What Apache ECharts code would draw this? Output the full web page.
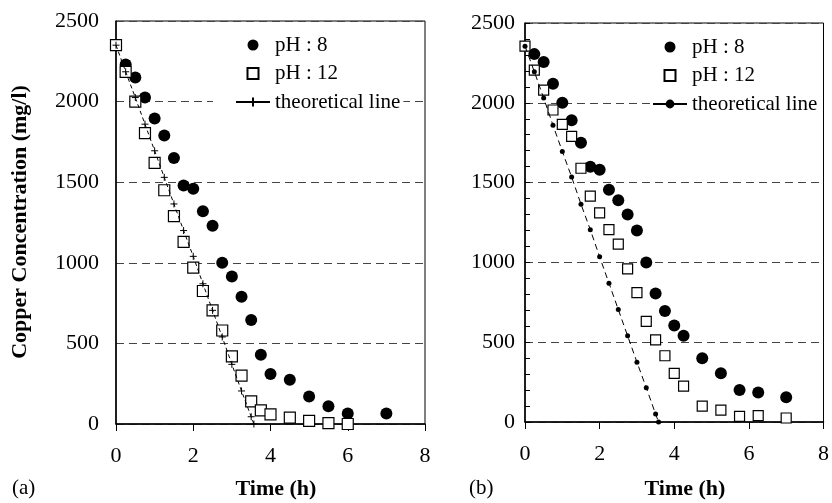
<!DOCTYPE html>
<html>
<head>
<meta charset="utf-8">
<script src="https://cdn.jsdelivr.net/npm/echarts@6/dist/echarts.min.js"></script>
<style>
	html, body { margin: 0; padding: 0; background: #fff; }
	#main { width: 832px; height: 503px; }
</style>
</head>
<body>
<div id="main"></div>
<script>
// (a) 数据
var timeA8 = [0.25, 0.5, 0.75, 1, 1.25, 1.5, 1.75, 2, 2.25, 2.5, 2.75, 3, 3.25, 3.5, 3.75, 4, 4.5, 5, 5.5, 6, 7];
var concA8 = [2230, 2150, 2025, 1895, 1790, 1650, 1480, 1460, 1320, 1230, 1000, 915, 790, 645, 430, 310, 275, 170, 110, 65, 65];
var timeA12 = [0, 0.25, 0.5, 0.75, 1, 1.25, 1.5, 1.75, 2, 2.25, 2.5, 2.75, 3, 3.25, 3.5, 3.75, 4, 4.5, 5, 5.5, 6];
var concA12 = [2350, 2185, 2000, 1805, 1620, 1450, 1290, 1130, 970, 825, 705, 580, 420, 300, 140, 85, 60, 40, 20, 5, 0];
var timeATh = [0, 0.25, 0.5, 0.75, 1, 1.25, 1.5, 1.75, 2, 2.25, 2.5, 2.75, 3, 3.25, 3.5, 3.57];
var concATh = [2350, 2185, 2025, 1860, 1695, 1530, 1365, 1200, 1040, 870, 705, 540, 370, 205, 45, 0];

// (b) 数据
var timeB8 = [0.25, 0.5, 0.75, 1, 1.25, 1.5, 1.75, 2, 2.25, 2.5, 2.75, 3, 3.25, 3.5, 3.75, 4, 4.25, 4.75, 5.25, 5.75, 6.25, 7];
var concB8 = [2305, 2255, 2120, 2000, 1890, 1750, 1600, 1580, 1455, 1390, 1300, 1200, 1000, 805, 695, 605, 540, 400, 305, 200, 185, 155];
var timeB12 = [0, 0.25, 0.5, 0.75, 1, 1.25, 1.5, 1.75, 2, 2.25, 2.5, 2.75, 3, 3.25, 3.5, 3.75, 4, 4.25, 4.75, 5.25, 5.75, 6.25, 7];
var concB12 = [2355, 2205, 2080, 1955, 1865, 1790, 1590, 1415, 1310, 1205, 1115, 960, 810, 630, 515, 415, 305, 225, 100, 75, 35, 40, 25];
var timeBTh = [0, 0.25, 0.5, 0.75, 1, 1.25, 1.5, 1.75, 2, 2.25, 2.5, 2.75, 3, 3.25, 3.5, 3.58];
var concBTh = [2355, 2195, 2030, 1860, 1695, 1535, 1365, 1205, 1035, 870, 705, 540, 375, 215, 50, 0];

var xTicks = [0, 2, 4, 6, 8];
var yTicks = [0, 500, 1000, 1500, 2000, 2500];

var FONT = 'Liberation Serif';
var SQUARE = 'path://M0,0H10V10H0Z';
var PLUS = 'path://M0,5L10,5M5,0L5,10';

var pairs = function(xs, ys) {
	var out = [];
	for(var i = 0; i < xs.length; i++) {
		out.push([xs[i], ys[i]]);
	}
	return out;
};
var plain = function(v) { return String(v); };

var xAxisOf = function(gi) {
	return {
		type: 'value', gridIndex: gi,
		min: xTicks[0], max: xTicks[xTicks.length - 1], interval: 2,
		axisLine: { lineStyle: { color: '#000', width: 1.5 } },
		axisTick: { show: true, length: 7, lineStyle: { color: '#000' } },
		axisLabel: { color: '#000', fontFamily: FONT, fontSize: 22, margin: 21, formatter: plain },
		splitLine: { show: false }
	};
};

var yAxisOf = function(gi, margin, minor) {
	return {
		type: 'value', gridIndex: gi,
		min: yTicks[0], max: yTicks[yTicks.length - 1], interval: 500,
		axisLine: { show: true, lineStyle: { color: '#000', width: 1.5 } },
		axisTick: { show: minor, inside: true, length: 5, lineStyle: { color: '#000' } },
		minorTick: { show: minor, splitNumber: 5, length: 5, lineStyle: { color: '#000', width: 1 } },
		axisLabel: { color: '#000', fontFamily: FONT, fontSize: 22, margin: margin, formatter: plain },
		splitLine: { show: true, lineStyle: { color: '#444', type: [8, 5], width: 1 } }
	};
};

var legendOf = function(left, top, padLeft, names) {
	return {
		orient: 'vertical', left: left, top: top,
		padding: [3, 3, 3, padLeft],
		backgroundColor: '#fff',
		itemWidth: 34, itemHeight: 11, itemGap: 6.5,
		data: names,
		formatter: function(n) { return n.trim(); },
		selectedMode: false,
		lineStyle: { type: 'solid' },
		textStyle: { color: '#000', fontFamily: FONT, fontSize: 21, lineHeight: 22 }
	};
};

var dotSeries = function(name, xi, data) {
	return {
		name: name, type: 'scatter', xAxisIndex: xi, yAxisIndex: xi,
		symbol: 'circle', symbolSize: 12,
		itemStyle: { color: '#000', opacity: 1 },
		data: data
	};
};
var boxSeries = function(name, xi, data, size) {
	return {
		name: name, type: 'scatter', xAxisIndex: xi, yAxisIndex: xi,
		symbol: SQUARE, symbolSize: size,
		itemStyle: { color: '#fff', borderColor: '#000', borderWidth: 1.2, opacity: 1 },
		data: data
	};
};

var chart = echarts.init(document.getElementById('main'));
chart.setOption({
	animation: false,
	backgroundColor: '#fff',
	grid: [
		{ left: 116, right: 407, top: 21, bottom: 79, show: true, borderColor: '#000', borderWidth: 1 },
		{ left: 525, right: 6, top: 23, bottom: 81, show: true, borderColor: '#000', borderWidth: 1 }
	],
	xAxis: [xAxisOf(0), xAxisOf(1)],
	yAxis: [
		yAxisOf(0, 17, false),
		yAxisOf(1, 10, true) // (b) 左轴内侧有小刻度
	],
	legend: [
		legendOf(213, 31, 22, ['pH : 8', 'pH : 12', 'theoretical line']),
		legendOf(652, 33, 0, ['pH : 8 ', 'pH : 12 ', 'theoretical line '])
	],
	series: [
		dotSeries('pH : 8', 0, pairs(timeA8, concA8)),
		boxSeries('pH : 12', 0, pairs(timeA12, concA12), 11),
		{
			name: 'theoretical line', type: 'line', xAxisIndex: 0, yAxisIndex: 0,
			symbol: PLUS, symbolSize: 7, showAllSymbol: true,
			itemStyle: { color: '#000', borderColor: '#000', borderWidth: 1 },
			lineStyle: { color: '#000', width: 1, type: [4, 3] },
			data: pairs(timeATh, concATh)
		},
		dotSeries('pH : 8 ', 1, pairs(timeB8, concB8)),
		boxSeries('pH : 12 ', 1, pairs(timeB12, concB12), 10),
		{
			name: 'theoretical line ', type: 'line', xAxisIndex: 1, yAxisIndex: 1,
			symbol: 'circle', symbolSize: 5, showAllSymbol: true,
			itemStyle: { color: '#000' },
			lineStyle: { color: '#000', width: 1, type: [6, 4] },
			data: pairs(timeBTh, concBTh)
		}
	],
	graphic: [
		{ type: 'text', x: 20, y: 222, rotation: Math.PI / 2,
			style: { text: 'Copper Concentration (mg/l)', font: 'bold 22px "Liberation Serif"', fill: '#000', align: 'center', verticalAlign: 'middle' } },
		{ type: 'text', x: 276, y: 489,
			style: { text: 'Time (h)', font: 'bold 22px "Liberation Serif"', fill: '#000', align: 'center', verticalAlign: 'middle' } },
		{ type: 'text', x: 685, y: 489,
			style: { text: 'Time (h)', font: 'bold 22px "Liberation Serif"', fill: '#000', align: 'center', verticalAlign: 'middle' } },
		{ type: 'text', x: 12, y: 488,
			style: { text: '(a)', font: '21px "Liberation Serif"', fill: '#000', align: 'left', verticalAlign: 'middle' } },
		{ type: 'text', x: 469, y: 488,
			style: { text: '(b)', font: '21px "Liberation Serif"', fill: '#000', align: 'left', verticalAlign: 'middle' } }
	]
});
</script>
</body>
</html>
